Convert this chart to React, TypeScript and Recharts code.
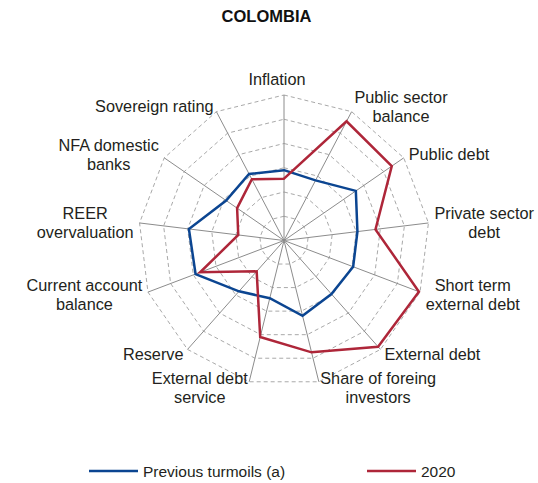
import { PolarAngleAxis, PolarGrid, PolarRadiusAxis, Radar, RadarChart } from "recharts";

const categories = [
  "Inflation",
  "Public sector balance",
  "Public debt",
  "Private sector debt",
  "Short term external debt",
  "External debt",
  "Share of foreing investors",
  "External debt service",
  "Reserve",
  "Current account balance",
  "REER overvaluation",
  "NFA domestic banks",
  "Sovereign rating",
];

// how each axis label is broken into lines
const labelLines: string[][] = [
  ["Inflation"],
  ["Public sector", "balance"],
  ["Public debt"],
  ["Private sector", "debt"],
  ["Short term", "external debt"],
  ["External debt"],
  ["Share of foreing", "investors"],
  ["External debt", "service"],
  ["Reserve"],
  ["Current account", "balance"],
  ["REER", "overvaluation"],
  ["NFA domestic", "banks"],
  ["Sovereign rating"],
];

const previousTurmoils = [2.9, 2.8, 3.6, 3.05, 3.05, 2.95, 3.2, 2.45, 2.8, 3.9, 3.95, 2.9, 3.1];
const year2020 = [2.55, 5.55, 5.4, 3.8, 5.95, 5.85, 4.75, 4.1, 1.7, 3.7, 1.9, 2.35, 2.85];

const series = [
  { key: "prev", name: "Previous turmoils (a)", color: "#0B4591" },
  { key: "y2020", name: "2020", color: "#AE2639" },
];

const data = categories.map((axis, i) => ({
  axis,
  prev: previousTurmoils[i],
  y2020: year2020[i],
}));

const W = 538;
const H = 483;
const CX = 284;
const CY = 240.5;
const R = 145.5;
const FONT = "Liberation Sans, Arial, sans-serif";
const FS = 16.3;

let ctx: CanvasRenderingContext2D | null = null;
function textWidth(s: string) {
  if (!ctx) ctx = document.createElement("canvas").getContext("2d");
  if (!ctx) return s.length * 8;
  ctx.font = `${FS}px ${FONT}`;
  return ctx.measureText(s).width;
}

function AxisLabel(props: any) {
  const { payload } = props;
  const idx = categories.indexOf(payload.value);
  const lines = labelLines[idx] ?? [payload.value];
  const a = (payload.coordinate * Math.PI) / 180;
  const dx = Math.cos(a);
  const dy = -Math.sin(a);
  const px = CX + (R + 6) * dx;
  let py = CY + (R + 6) * dy;
  const w = Math.max(...lines.map(textWidth));
  let mx = px;
  if (dx > 0.05) mx = px + w / 2;
  else if (dx < -0.05) mx = px - w / 2;
  else {
    // top label sits a little left of its spoke in the original
    mx = px - 7;
    py -= 10;
  }
  const lh = 19;
  return (
    <text textAnchor="middle" fontFamily={FONT} fontSize={FS} fill="#231f20">
      {lines.map((l, i) => (
        <tspan key={i} x={mx} y={py + (i - (lines.length - 1) / 2) * lh} dominantBaseline="central">
          {l}
        </tspan>
      ))}
    </text>
  );
}

export default function App() {
  return (
    <div style={{ position: "absolute", left: 0, top: 0, width: W, height: H, background: "#fff" }}>
      <div
        style={{
          position: "absolute",
          left: 0,
          width: W - 5,
          top: 7,
          textAlign: "center",
          fontFamily: FONT,
          fontWeight: "bold",
          fontSize: 16.5,
          color: "#111",
        }}
      >
        COLOMBIA
      </div>
      <RadarChart width={W} height={H} data={data} cx={CX} cy={CY} outerRadius={R} margin={{ top: 0, right: 0, bottom: 0, left: 0 }}>
        <PolarGrid gridType="polygon" radialLines={false} stroke="#a9a9a9" strokeDasharray="4 3" />
        <PolarGrid gridType="polygon" polarRadius={[]} stroke="#8c8c8c" />
        <PolarAngleAxis dataKey="axis" tick={<AxisLabel />} tickLine={false} axisLine={false} />
        <PolarRadiusAxis domain={[0, 6]} tickCount={7} tick={false} axisLine={false} />
        {series.map((s) => (
          <Radar
            key={s.key}
            dataKey={s.key}
            name={s.name}
            stroke={s.color}
            strokeWidth={2.5}
            fill="none"
            fillOpacity={0}
            dot={false}
            isAnimationActive={false}
          />
        ))}
      </RadarChart>
      <svg style={{ position: "absolute", left: 0, top: 455 }} width={W} height={28}>
        {series.map((s, i) => {
          const x0 = i === 0 ? 89 : 367;
          return (
            <g key={s.key}>
              <line x1={x0} x2={x0 + 49} y1={16} y2={16} stroke={s.color} strokeWidth={2.5} />
              <text x={x0 + 54} y={16} dominantBaseline="central" fontFamily={FONT} fontSize={15.5} fill="#231f20">
                {s.name}
              </text>
            </g>
          );
        })}
      </svg>
    </div>
  );
}
